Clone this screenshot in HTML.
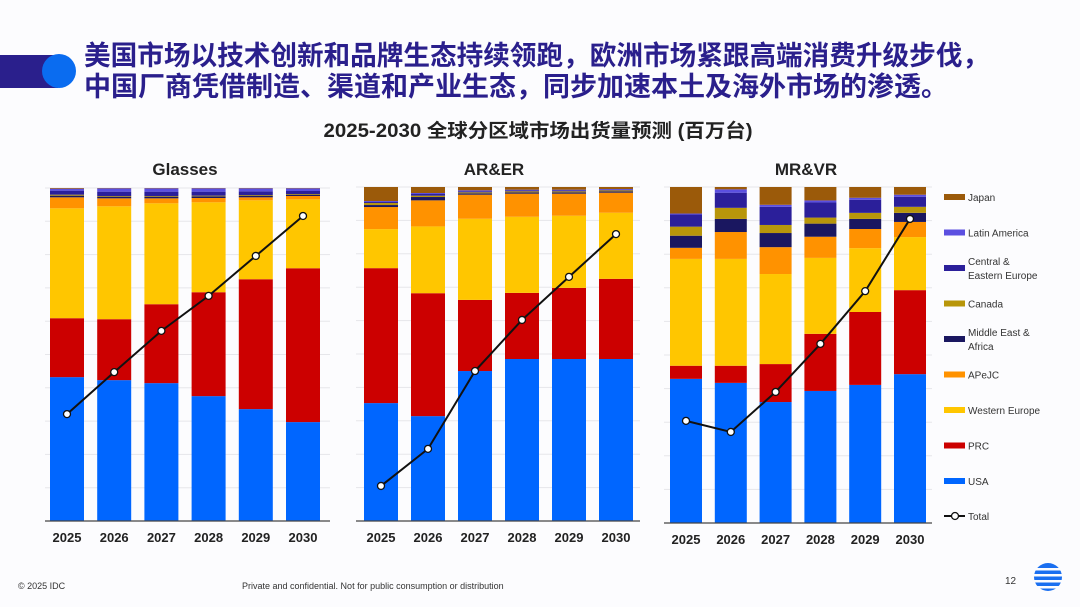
<!DOCTYPE html>
<html><head><meta charset="utf-8"><style>
body{margin:0;width:1080px;height:607px;overflow:hidden;background:#fcfcfe;font-family:"Liberation Sans","Noto Sans CJK SC",sans-serif;}
svg{display:block}
</style></head><body>
<svg id="s" width="1080" height="607" xmlns="http://www.w3.org/2000/svg">
<rect x="0" y="55" width="58" height="33" fill="#2a1f8c"/>
<circle cx="59" cy="71" r="17" fill="#0a6cf0"/>
<text x="84" y="65" font-size="27" font-weight="bold" fill="#2a1f8c" textLength="905" lengthAdjust="spacingAndGlyphs" font-family="Liberation Sans, Noto Sans CJK SC, sans-serif">美国市场以技术创新和品牌生态持续领跑，欧洲市场紧跟高端消费升级步伐，</text>
<text x="84" y="96" font-size="27" font-weight="bold" fill="#2a1f8c" font-family="Liberation Sans, Noto Sans CJK SC, sans-serif">中国厂商凭借制造、渠道和产业生态，同步加速本土及海外市场的渗透。</text>
<text x="538" y="137" text-anchor="middle" font-size="19" font-weight="bold" fill="#222" textLength="429" lengthAdjust="spacingAndGlyphs" font-family="Liberation Sans, Noto Sans CJK SC, sans-serif">2025-2030 全球分区域市场出货量预测 (百万台)</text>
<text x="18" y="589" font-size="9" fill="#333">© 2025 IDC</text>
<text x="242" y="589" font-size="9" fill="#333">Private and confidential. Not for public consumption or distribution</text>
<text x="1005" y="584" font-size="10" fill="#333">12</text>
<g>
<circle cx="1048" cy="577" r="14" fill="#1a6ff0"/>
<rect x="1032" y="568" width="32" height="2.5" fill="#fcfcfe"/><rect x="1032" y="574" width="32" height="2.5" fill="#fcfcfe"/><rect x="1032" y="580" width="32" height="2.5" fill="#fcfcfe"/><rect x="1032" y="586" width="32" height="2.5" fill="#fcfcfe"/>
</g>
<g id="charts"></g>
<g id="legend"></g>
</svg>
<script>
const years = ["2025","2026","2027","2028","2029","2030"];
const seriesNames = ["USA","PRC","Western Europe","APeJC","Middle East & Africa","Canada","Central & Eastern Europe","Latin America","Japan"];
const seriesColors = ["#0066ff","#cc0000","#ffc600","#ff9200","#1a1760","#b8960a","#2b1f9a","#5b4fe0","#9b5a0a"];
// share of stack (%) per series, bottom to top
const glassesUSA = [43.2,42.3,41.4,37.5,33.6,29.7];
const glassesPRC = [17.7,18.3,23.7,31.2,39.0,46.2];
const glassesWE = [33.0,33.9,30.3,27.0,23.7,20.7];
const glassesAPeJC = [3.3,2.4,1.5,1.3,0.9,1.0];
const glassesMEA = [0.5,0.5,0.5,0.5,0.5,0.4];
const glassesCanada = [0.3,0.2,0.2,0.2,0.2,0.2];
const glassesCEE = [1.2,1.3,1.3,1.2,1.1,0.9];
const glassesLatAm = [0.6,1.0,1.0,1.0,0.9,0.8];
const glassesJapan = [0.2,0.1,0.1,0.1,0.1,0.1];
const glassesTotal = [32.1,44.7,57.1,67.6,79.6,91.6];

const arUSA = [35.3,31.4,44.9,48.5,48.5,48.5];
const arPRC = [40.4,36.8,21.3,19.8,21.3,24.0];
const arWE = [11.7,20.0,24.3,22.8,21.6,19.8];
const arAPeJC = [6.6,7.8,7.2,6.9,6.6,6.0];
const arMEA = [0.6,1.0,0.4,0.4,0.4,0.4];
const arCanada = [0.6,0.4,0.3,0.3,0.3,0.3];
const arCEE = [0.3,0.5,0.3,0.3,0.3,0.2];
const arLatAm = [0.3,0.3,0.3,0.2,0.2,0.2];
const arJapan = [4.2,1.8,1.0,0.8,0.8,0.6];
const arTotal = [10.5,21.6,44.9,60.2,73.1,85.9];

const mrUSA = [42.9,41.7,36.0,39.3,41.1,44.3];
const mrPRC = [3.9,5.1,11.3,17.0,21.7,25.0];
const mrWE = [31.8,31.8,26.8,22.6,19.0,15.8];
const mrAPeJC = [3.3,8.0,8.0,6.3,5.7,4.5];
const mrMEA = [3.6,3.9,4.2,3.9,3.0,2.7];
const mrCanada = [2.7,3.3,2.4,1.8,1.8,1.8];
const mrCEE = [3.6,4.5,5.4,4.5,3.9,3.0];
const mrLatAm = [0.3,1.0,0.6,0.6,0.6,0.6];
const mrJapan = [7.9,0.7,5.3,4.0,3.2,2.3];
const mrTotal = [30.4,27.1,39.0,53.3,69.0,90.5];

const NS="http://www.w3.org/2000/svg";
const root=document.getElementById('charts');
function mk(tag,attrs,parent){const e=document.createElementNS(NS,tag);for(const k in attrs)e.setAttribute(k,attrs[k]);parent.appendChild(e);return e;}

const charts=[
 {name:"glasses",title:"Glasses",tx:185,x0:45,x1:330,c0:67,step:47.2,bw:34,base:521,top:188,series:[glassesUSA,glassesPRC,glassesWE,glassesAPeJC,glassesMEA,glassesCanada,glassesCEE,glassesLatAm,glassesJapan],total:glassesTotal},
 {name:"ar-er",title:"AR&ER",tx:494,x0:356,x1:640,c0:381,step:47,bw:34,base:521,top:187,series:[arUSA,arPRC,arWE,arAPeJC,arMEA,arCanada,arCEE,arLatAm,arJapan],total:arTotal},
 {name:"mr-vr",title:"MR&VR",tx:806,x0:664,x1:932,c0:686,step:44.8,bw:32,base:523,top:187,series:[mrUSA,mrPRC,mrWE,mrAPeJC,mrMEA,mrCanada,mrCEE,mrLatAm,mrJapan],total:mrTotal}
];

charts.forEach(c=>{
 const g=mk('g',{},root);
 
 
 const H=c.base-c.top;
 const yS=v=>c.base-v/100*H;
 const xS=i=>c.c0+i*c.step;
 const t=mk('text',{x:c.tx,y:175,'text-anchor':'middle','font-size':17,'font-weight':'bold',fill:'#222'},g);
 t.textContent=c.title;
 
 
 for(let k=1;k<=10;k++){
  const gl=mk('line',{x1:c.x0,x2:c.x1,y1:c.base-k*H/10,y2:c.base-k*H/10,stroke:'#e6e6ea','stroke-width':1},g);
  
  
 }
 years.forEach((yr,i)=>{
  let acc=0;
  c.series.forEach((s,si)=>{
   const v=s[i];
   const r=mk('rect',{x:xS(i)-c.bw/2,y:yS(acc+v),width:c.bw,height:Math.max(0,yS(acc)-yS(acc+v)),fill:seriesColors[si]},g);
   
   
   acc+=v;
  });
  const lb=mk('text',{x:xS(i),y:c.base+21,'text-anchor':'middle','font-size':13,'font-weight':'bold',fill:'#222'},g);
  lb.textContent=yr;
  
  
 });
 const ax=mk('line',{x1:c.x0,x2:c.x1,y1:c.base,y2:c.base,stroke:'#444','stroke-width':1.2},g);
 
 
 const pts=c.total.map((v,i)=>xS(i)+','+yS(v)).join(' ');
 const pl=mk('polyline',{points:pts,fill:'none',stroke:'#111','stroke-width':2},g);
 
 
 c.total.forEach((v,i)=>{
  const p=mk('circle',{cx:xS(i),cy:yS(v),r:3.5,fill:'#fff',stroke:'#111','stroke-width':1.3},g);
  
  
 });
});

const leg=document.getElementById('legend');
const legItems=[["Japan",8],["Latin America",7],["Central &|Eastern Europe",6],["Canada",5],["Middle East &|Africa",4],["APeJC",3],["Western Europe",2],["PRC",1],["USA",0]];
legItems.forEach((it,k)=>{
 const y=197+k*35.5;
 const lines=it[0].split('|');
 const sw=mk('rect',{x:944,y:y-3,width:21,height:6,fill:seriesColors[it[1]]},leg);
 
 
 const tx=mk('text',{x:968,y:y+(lines.length>1?-3:4),'font-size':10,fill:'#333'},leg);
 lines.forEach((l,j)=>{const ts=mk('tspan',{x:968,dy:j?14:0},tx);ts.textContent=l;});
 
 
});
const ty=516;
const tl=mk('line',{x1:944,x2:965,y1:ty,y2:ty,stroke:'#111','stroke-width':2},leg);


const tc=mk('circle',{cx:955,cy:ty,r:3.5,fill:'#fff',stroke:'#111','stroke-width':1.3},leg);


const tt=mk('text',{x:968,y:ty+4,'font-size':10,fill:'#333'},leg);
tt.textContent='Total';


</script>
</body></html>
